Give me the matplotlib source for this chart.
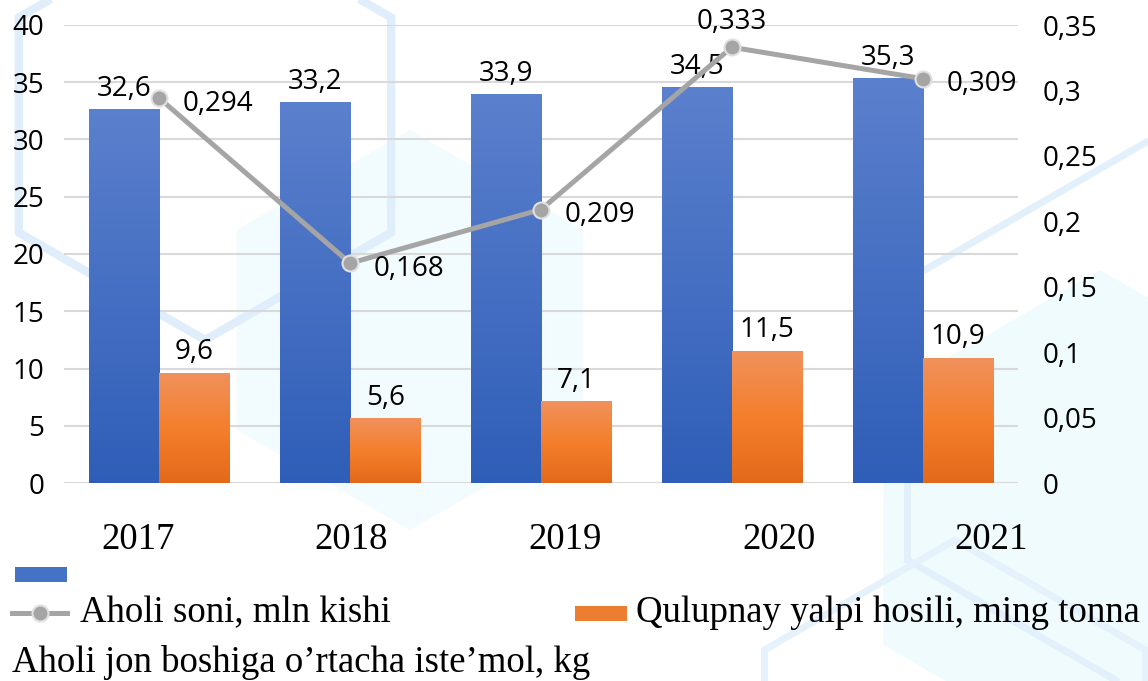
import numpy as np
import matplotlib.pyplot as plt
from matplotlib.colors import LinearSegmentedColormap
from matplotlib.patches import Rectangle, Polygon
from matplotlib.lines import Line2D

years = ["2017", "2018", "2019", "2020", "2021"]
aholi = [32.6, 33.2, 33.9, 34.5, 35.3]
qulupnay = [9.6, 5.6, 7.1, 11.5, 10.9]
istemol = [0.294, 0.168, 0.209, 0.333, 0.309]

label_blue = "Aholi soni, mln kishi"
label_orange = "Qulupnay yalpi hosili, ming tonna"
label_line = "Aholi jon boshiga o\u2019rtacha iste\u2019mol, kg"

num_font = "Open Sans"
serif = "Liberation Serif"


def fmt(v):
    return f"{v:g}".replace(".", ",")


W, H = 1148, 681
fig = plt.figure(figsize=(W / 100, H / 100), dpi=100)
fig.patch.set_facecolor("white")


# faint hexagon background (pixel centres, pointy-top)
def hexagon(cx, cy, r):
    ang = np.deg2rad(np.arange(6) * 60 + 90)
    return np.column_stack([(cx + r * np.cos(ang)) / W, 1 - (cy + r * np.sin(ang)) / H])


bg = fig.add_axes([0, 0, 1, 1], zorder=-1)
bg.axis("off")
bg.set_xlim(0, 1)
bg.set_ylim(0, 1)
bg.add_patch(Polygon(hexagon(1100, 520, 250), closed=True, fc="#effbfd", ec="none"))
bg.add_patch(Polygon(hexagon(1150, 420, 280), closed=True, fc="none", ec="#e2f0fb", lw=5))
bg.add_patch(Polygon(hexagon(410, 330, 200), closed=True, fc="#f2fbfd", ec="none"))
bg.add_patch(Polygon(hexagon(205, 125, 215), closed=True, fc="none", ec="#e0eefb", lw=6))
bg.add_patch(Polygon(hexagon(955, 760, 220), closed=True, fc="none", ec="#e6f2fb", lw=5))

ax = fig.add_axes([64 / W, 1 - 483 / H, (1018 - 64) / W, (483 - 25) / H])
ax.patch.set_alpha(0)
ax2 = ax.twinx()

x = np.arange(len(years))
bw = 0.367
blue_cmap = LinearSegmentedColormap.from_list("b", ["#2f5eb8", "#5b80cd"])
orange_cmap = LinearSegmentedColormap.from_list("o", ["#e3691a", "#f47f2c", "#f0915c"])

b1 = ax.bar(x - bw / 2, aholi, bw, color="none", zorder=2)
b2 = ax.bar(x + bw / 2, qulupnay, bw, color="none", zorder=2)
grad = np.linspace(0, 1, 256).reshape(-1, 1)
for bars, cmap in [(b1, blue_cmap), (b2, orange_cmap)]:
    for p in bars:
        x0, y0, w, h = p.get_x(), p.get_y(), p.get_width(), p.get_height()
        ax.imshow(grad, cmap=cmap, origin="lower", aspect="auto",
                  extent=[x0, x0 + w, y0, y0 + h], zorder=2)

for bars, vals in [(b1, aholi), (b2, qulupnay)]:
    for p, v in zip(bars, vals):
        ax.annotate(fmt(v), (p.get_x() + p.get_width() / 2, v), xytext=(0, 5),
                    textcoords="offset points", ha="center", va="bottom",
                    fontsize=20, family=num_font, zorder=5)

ax.set_xlim(-0.5, len(years) - 0.5)
ax.set_ylim(0, 40)
ax.set_yticks(np.arange(0, 41, 5))
ax.grid(axis="y", color="#d9d9d9", lw=1.5, zorder=0)
ax.set_axisbelow(True)
ax.tick_params(axis="y", length=0, pad=14, labelsize=20)
ax.tick_params(axis="x", length=0)
ax.set_xticks([])
for lab in ax.get_yticklabels():
    lab.set_family(num_font)
for s in ax.spines.values():
    s.set_visible(False)

# year labels (offset from categories as in the source)
year_pos = [138, 351, 565, 779, 991]
for xp, yr in zip(year_pos, years):
    ax.text((xp - 64) / (1018 - 64), -57 / 458, yr, transform=ax.transAxes,
            ha="center", va="center", fontsize=26.5, family=serif)

ax2.plot(x, istemol, color="#a5a5a5", lw=3.6, marker="o", ms=11.5,
         mfc="#a5a5a5", mec="#e0e0e0", mew=1.5, zorder=4)
ax2.set_ylim(0, 0.35)
ax2.set_yticks(np.arange(0, 0.351, 0.05))
ax2.set_yticklabels([fmt(round(v, 2)) for v in np.arange(0, 0.351, 0.05)])
ax2.tick_params(axis="y", length=0, pad=18, labelsize=20)
for lab in ax2.get_yticklabels():
    lab.set_family(num_font)
for s in ax2.spines.values():
    s.set_visible(False)

offsets = [(17, -4, "left"), (17, -4, "left"), (17, -4, "left"), (0, 8, "center"), (17, -4, "left")]
for xi, v, (dx, dy, ha) in zip(x, istemol, offsets):
    ax2.annotate(fmt(v), (xi, v), xytext=(dx, dy), textcoords="offset points",
                 ha=ha, va="bottom" if ha == "center" else "center",
                 fontsize=20, family=num_font, zorder=5)


# legend, laid out as in the source picture
def fx(px):
    return px / W


def fy(py):
    return 1 - py / H


fig.add_artist(Rectangle((fx(15), fy(582)), fx(67) - fx(15), (582 - 567) / H,
                         transform=fig.transFigure, fc="#4472c4", ec="none"))
fig.add_artist(Line2D([fx(12), fx(67)], [fy(613), fy(613)], transform=fig.transFigure,
                      color="#a5a5a5", lw=3.6))
fig.add_artist(Line2D([fx(39.5)], [fy(613)], transform=fig.transFigure, marker="o",
                      ms=11.5, mfc="#a5a5a5", mec="#e0e0e0", mew=1.5))
fig.text(fx(80), fy(613), label_blue, ha="left", va="center", fontsize=26.5, family=serif)
fig.add_artist(Rectangle((fx(575), fy(621)), fx(627) - fx(575), (621 - 606) / H,
                         transform=fig.transFigure, fc="#ed7d31", ec="none"))
fig.text(fx(636), fy(613), label_orange, ha="left", va="center", fontsize=26.5, family=serif)
fig.text(fx(12), fy(662), label_line, ha="left", va="center", fontsize=26.5, family=serif)

fig.savefig("out.png", dpi=100)
